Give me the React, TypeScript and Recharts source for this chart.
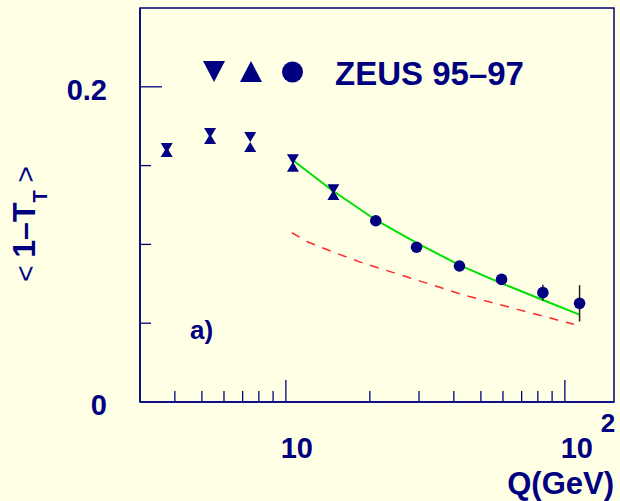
import React from 'react';
import {
  ComposedChart, Line, Scatter, XAxis, YAxis, ErrorBar, ReferenceArea,
} from 'recharts';

// ZEUS 95-97 mean thrust (transverse), <1-T_T> vs Q
const NAVY = '#000080';
const BG = '#ffffe6';
const FONT = '"Liberation Sans", Arial, Helvetica, sans-serif';

// low-Q points: two samples (down / up triangles)
const lowQ = [3.74, 5.35, 7.45, 10.6, 14.8];
const downVals = [0.1612, 0.1707, 0.1681, 0.154, 0.135];
const upVals = [0.1586, 0.1669, 0.1618, 0.1493, 0.1313];

// high-Q points (circles)
const highQ = [21.0, 29.4, 41.9, 59.3, 83.4, 112.9];
const highVals = [0.115, 0.0982, 0.0863, 0.0778, 0.0694, 0.0626];
const highErr = [0.0015, 0.0015, 0.0015, 0.0015, 0.005, 0.0115];

// fit (green) and second curve (red dashed)
const fitQ = [10.65, 14.6, 21, 29.4, 41.9, 59.3, 83.4, 112.3];
const fitVals = [0.1531, 0.1345, 0.1155, 0.101, 0.0869, 0.0753, 0.0647, 0.0556];
const dashQ = [10.5, 12.0, 15.0, 19.0, 29.5, 43.3, 65.6, 107.7];
const dashVals = [0.1074, 0.1015, 0.0947, 0.088, 0.0774, 0.0679, 0.0594, 0.0493];

const xTicks = [4, 5, 6, 7, 8, 9, 10, 20, 30, 40, 50, 60, 70, 80, 90, 100];
const yTicks = [0, 0.05, 0.1, 0.15, 0.2];

const downData = lowQ.map((q, i) => ({ q, v: downVals[i] }));
const upData = lowQ.map((q, i) => ({ q, v: upVals[i] }));
const highData = highQ.map((q, i) => ({ q, v: highVals[i], err: highErr[i] }));
const fitData = fitQ.map((q, i) => ({ q, v: fitVals[i] }));
const dashData = dashQ.map((q, i) => ({ q, v: dashVals[i] }));

if (typeof document !== 'undefined') {
  document.body.style.margin = '0';
  document.body.style.background = BG;
}

const DownTri = (p: any) => (
  <path d={`M${p.cx - 6},${p.cy - 5}L${p.cx + 6},${p.cy - 5}L${p.cx},${p.cy + 5}Z`} fill={NAVY} />
);
const UpTri = (p: any) => (
  <path d={`M${p.cx - 6},${p.cy + 5}L${p.cx + 6},${p.cy + 5}L${p.cx},${p.cy - 5}Z`} fill={NAVY} />
);
const Dot = (p: any) => <circle cx={p.cx} cy={p.cy} r={5.8} fill={NAVY} />;

const XTick = (props: any) => {
  const { x, y, payload } = props;
  const v = payload.value;
  const major = v === 10 || v === 100;
  return (
    <g>
      <line x1={x} y1={y} x2={x} y2={y - (major ? 22 : 11)} stroke={NAVY} strokeWidth={1.3} />
      {v === 10 && (
        <text x={x + 11} y={y + 56} textAnchor="middle" fontSize={29} fontWeight="bold" fill={NAVY} fontFamily={FONT}>10</text>
      )}
      {v === 100 && (
        <g>
          <text x={x + 12} y={y + 56} textAnchor="middle" fontSize={29} fontWeight="bold" fill={NAVY} fontFamily={FONT}>10</text>
          <text x={x + 43} y={y + 30} textAnchor="middle" fontSize={26} fontWeight="bold" fill={NAVY} fontFamily={FONT}>2</text>
        </g>
      )}
    </g>
  );
};

const YTick = (props: any) => {
  const { x, y, payload } = props;
  const v = payload.value;
  const major = v === 0.2;
  return (
    <g>
      {v !== 0 && (
        <line x1={x} y1={y} x2={x + (major ? 22 : 11)} y2={y} stroke={NAVY} strokeWidth={1.3} />
      )}
      {(v === 0 || v === 0.2) && (
        <text x={107} y={y + 13} textAnchor="end" fontSize={29} fontWeight="bold" fill={NAVY} fontFamily={FONT}>
          {v === 0 ? '0' : '0.2'}
        </text>
      )}
    </g>
  );
};

export default function App() {
  return (
    <div style={{ width: 620, height: 501, background: BG }}>
      <ComposedChart width={620} height={501} margin={{ top: 8, right: 6, bottom: 0, left: 0 }}>
        <XAxis
          dataKey="q"
          type="number"
          scale="log"
          domain={[3, 150]}
          allowDataOverflow
          ticks={xTicks}
          interval={0}
          height={99}
          tickSize={0}
          tickMargin={0}
          tickLine={false}
          axisLine={{ stroke: NAVY, strokeWidth: 1.5 }}
          tick={<XTick />}
        />
        <YAxis
          dataKey="v"
          type="number"
          domain={[0, 0.25]}
          allowDataOverflow
          ticks={yTicks}
          interval={0}
          width={140}
          tickSize={0}
          tickMargin={0}
          tickLine={false}
          axisLine={{ stroke: NAVY, strokeWidth: 1.5 }}
          tick={<YTick />}
        />
        <ReferenceArea x1={3} x2={150} y1={0} y2={0.25} fill="none" stroke={NAVY} strokeWidth={1.5} ifOverflow="visible" />
        <Line data={dashData} dataKey="v" stroke="#ff2a2a" strokeWidth={1.5} strokeDasharray="9 8" dot={false} isAnimationActive={false} />
        <Line data={fitData} dataKey="v" stroke="#00e000" strokeWidth={2} dot={false} isAnimationActive={false} />
        <Scatter data={downData} dataKey="v" shape={DownTri} isAnimationActive={false} />
        <Scatter data={upData} dataKey="v" shape={UpTri} isAnimationActive={false} />
        <Scatter data={highData} dataKey="v" shape={Dot} isAnimationActive={false}>
          <ErrorBar dataKey="err" direction="y" width={0} stroke="#222" strokeWidth={1.5} />
        </Scatter>

        {/* legend */}
        <path d="M203,61L225,61L214,82Z" fill={NAVY} />
        <path d="M240,82L262,82L251,61Z" fill={NAVY} />
        <circle cx={292.5} cy={72} r={10.5} fill={NAVY} />
        <text x={335} y={85} fontSize={33} fontWeight="bold" fill={NAVY} fontFamily={FONT}>ZEUS 95–97</text>

        <text x={190} y={339} fontSize={26} fontWeight="bold" fill={NAVY} fontFamily={FONT}>a)</text>

        <text x={614} y={494} textAnchor="end" fontSize={31} fontWeight="bold" fill={NAVY} fontFamily={FONT}>Q(GeV)</text>

        <text transform="rotate(-90)" x={-224} y={35} textAnchor="middle" fill={NAVY} fontFamily={FONT}>
          <tspan fontSize={28}>{'< '}</tspan>
          <tspan fontSize={32} fontWeight="bold">1–T</tspan>
          <tspan fontSize={20} fontWeight="bold" dy={12}>T</tspan>
          <tspan fontSize={28} dy={-12}>{' >'}</tspan>
        </text>
      </ComposedChart>
    </div>
  );
}
